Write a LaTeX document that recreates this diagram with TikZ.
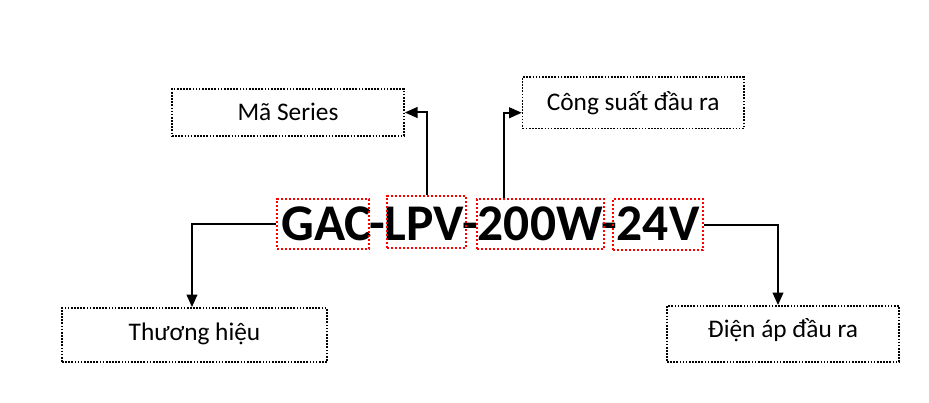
\documentclass[tikz,border=0pt]{standalone}
\usepackage{fontspec}
\setmainfont{Carlito}
\usetikzlibrary{arrows.meta}
\tikzset{
  lbl/.style={draw=black, line width=1.25pt, dash pattern=on 1.25pt off 1.1pt,
    font=\fontsize{19}{22}\selectfont, inner sep=0pt, text depth=0.5pt},
  redbox/.style={draw=red, line width=1.6pt, dash pattern=on 1.6pt off 1.4pt, inner sep=0pt},
  arr/.style={line width=1.5pt, -{Triangle[length=9.5pt,width=8pt]}},
  code/.style={font=\bfseries\fontsize{38.6}{42}\selectfont, inner sep=0pt, anchor=base}
}
\begin{document}
\begin{tikzpicture}[x=0.75pt,y=-0.75pt]
\useasboundingbox (0,0) rectangle (929,403);
% main code text
\node[code] (txt) at (490.5,240) {GAC-LPV-200W-24V};
% red boxes
\node[redbox, minimum width=69pt, minimum height=37.5pt] (gac) at (323,224) {};
\node[redbox, minimum width=59.25pt, minimum height=39pt] (lpv) at (426.5,222) {};
\node[redbox, minimum width=95.25pt, minimum height=37.5pt] (w200) at (540.5,224) {};
\node[redbox, minimum width=67.5pt, minimum height=38.25pt] (v24) at (658,224.5) {};
% label boxes
\node[lbl, minimum width=174pt, minimum height=35.25pt, text height=13.25pt, text depth=0.5pt] (masr) at (288,112.5) {Mã Series};
\node[lbl, minimum width=166pt, minimum height=38.6pt, text height=11.4pt] (cong) at (633.25,102.75) {Công suất đầu ra};
\node[lbl, minimum width=198.75pt, minimum height=40.5pt, text height=8pt] (thuong) at (194.5,335) {Thương hiệu};
\node[lbl, minimum width=174pt, minimum height=42pt, text height=5pt] (dien) at (783,334) {Điện áp đầu ra};
% connectors
\draw[arr] (gac.west) -| ([xshift=-1.9pt]thuong.north);
\draw[arr] (v24.east) -| ([xshift=-3.75pt]dien.north);
\draw[arr] (lpv.north) |- (masr.east);
\draw[arr] ([xshift=-27.4pt]w200.north) |- ([yshift=-7.5pt]cong.west);
\end{tikzpicture}
\end{document}
